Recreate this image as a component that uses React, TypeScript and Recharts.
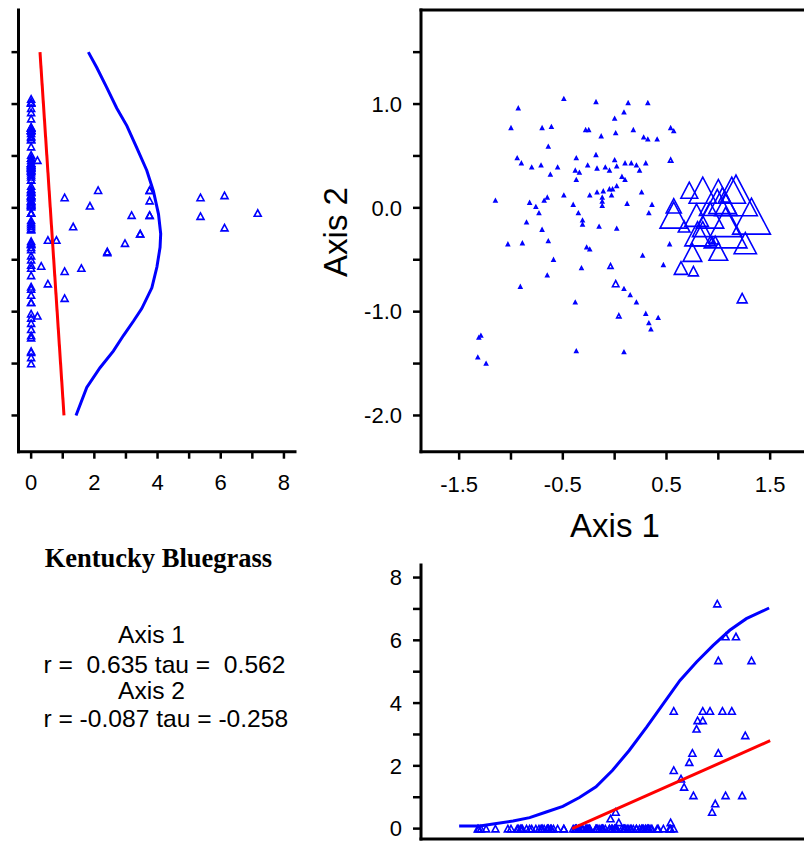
import React from 'react';
import { ScatterChart, Scatter, XAxis, YAxis } from 'recharts';

const BLUE = '#0000ff';
const RED = '#ff0000';
const SANS = '"Liberation Sans", Arial, sans-serif';
const SERIF = '"Liberation Serif", "Times New Roman", serif';

// ---- sample scores (ordination) and species abundance ----
const axis1Scores = [
  -0.49, -0.18, 0.13, 0.32, -0.93, 0.09, 0.0, -1.0, -0.7, -0.61,
  -0.28, -0.25, -0.13, 0.01, 0.18, 0.28, 0.32, 0.41, 0.54, 0.57,
  -0.64, -0.94, -0.37, -0.18, 0.0, 0.1, 0.16, 0.3, 0.54,
  -0.9, -0.8, -0.71, -0.55, -0.62, -0.38, -0.34, -0.37, -0.26, -0.17,
  -0.09, -0.05, 0.02, 0.07, 0.1, 0.21, 0.24, -1.15, -0.82, -0.76,
  -0.73, -0.68, -0.65, -0.49, -0.4, -0.35, -0.24, -0.17, -0.11, -0.12,
  -0.12, -0.12, -0.05, -0.02, 0.02, -0.03, 0.12, 0.26, 0.36, 0.33,
  -0.85, -0.31, -0.31, -0.7, -0.15, 0.02, -1.03, -0.89, -0.64, -0.27,
  -0.24, -0.59, -0.32, -0.65, -0.91, -0.38, 0.27, 0.53, 0.47, 0.09,
  0.15, 0.21, 0.3, 0.33, 0.42, 0.35, -1.31, -1.29, -1.32, -1.24,
  -0.37, 0.09,
  -0.04, 0.01, 0.04,
  0.99, 1.17, 1.07, 1.32, 1.0, 0.57, 0.85, 0.92, 1.04, 1.13,
  0.8, 0.85, 0.79, 1.26, 0.75, 1.0, 0.72, 0.57, 0.64, 0.67,
  0.76, 1.23, 1.07, 0.97, 0.94,
];
const axis2Scores = [
  1.05, 1.02, 1.01, 1.01, 0.96, 0.92, 0.86, 0.77, 0.77, 0.78,
  0.75, 0.75, 0.69, 0.72, 0.75, 0.68, 0.66, 0.66, 0.77, 0.74,
  0.59, 0.48, 0.48, 0.51, 0.46, 0.43, 0.43, 0.43, 0.46,
  0.43, 0.39, 0.41, 0.39, 0.32, 0.36, 0.34, 0.27, 0.41, 0.38,
  0.39, 0.36, 0.4, 0.3, 0.27, 0.41, 0.36, 0.07, 0.05, 0.01,
  -0.05, 0.07, 0.1, 0.12, 0.03, -0.05, 0.12, 0.15, 0.16, 0.1,
  0.06, 0.02, 0.18, 0.18, 0.21, 0.12, 0.04, 0.15, 0.03, -0.05,
  -0.14, -0.12, -0.16, -0.21, -0.18, -0.2, -0.35, -0.34, -0.32, -0.38,
  -0.4, -0.5, -0.58, -0.65, -0.76, -0.91, -0.46, -0.35, -0.55, -0.78,
  -0.84, -0.91, -1.02, -1.11, -1.06, -1.17, -1.25, -1.23, -1.44, -1.5,
  -1.38, -1.39,
  -0.56, -0.73, -1.04,
  -0.05, 0.12, -0.19, -0.08, 0.1, -0.07, 0.17, -0.07, 0.07, 0.17,
  -0.25, -0.25, -0.07, -0.34, -0.43, -0.42, 0.17, 0.02, -0.58, -0.18,
  -0.61, -0.87, 0.1, -0.31, -0.31,
];
const abundance = [
  0, 0, 0, 0, 0, 0, 0, 0, 0, 0,
  0, 0, 0, 0, 0, 0, 0, 0, 0, 0,
  0, 0, 0, 0, 0, 0, 0, 0, 0.2,
  0, 0, 0, 0, 0, 0, 0, 0, 0, 0,
  0, 0, 0, 0, 0, 0, 0, 0, 0, 0,
  0, 0, 0, 0, 0, 0, 0, 0, 0, 0,
  0, 0, 0, 0, 0, 0, 0, 0, 0, 0,
  0, 0, 0, 0, 0, 0, 0, 0, 0, 0,
  0, 0, 0, 0, 0, 0, 0, 0, 0, 0,
  0, 0, 0, 0, 0, 0, 0, 0, 0, 0,
  0, 0,
  0.32, 0.53, 0.2,
  7.17, 6.12, 6.12, 5.36, 5.36, 3.75, 3.75, 3.75, 3.75, 3.75,
  3.45, 3.45, 3.18, 2.97, 2.41, 2.41, 2.12, 1.86, 1.59, 1.33,
  1.06, 1.06, 1.06, 0.8, 0.53,
];

// ---- fitted curves ----
const leftCurveAxis2 = [1.5, 1.35, 1.16, 0.96, 0.79, 0.58, 0.36, 0.16, -0.06, -0.25, -0.38, -0.57, -0.77, -0.97, -1.09, -1.23, -1.38, -1.54, -1.73, -2.0];
const leftCurveAbund = [1.81, 2.08, 2.39, 2.71, 3.03, 3.34, 3.66, 3.87, 4.03, 4.1, 4.08, 3.98, 3.82, 3.5, 3.24, 2.92, 2.6, 2.18, 1.76, 1.42];
const leftTrendAxis2 = [1.5, -2.0];
const leftTrendAbund = [0.28, 1.04];

const bottomCurveAxis1 = [-1.5, -1.3, -1.14, -0.98, -0.82, -0.66, -0.5, -0.34, -0.18, -0.02, 0.14, 0.31, 0.47, 0.63, 0.79, 0.95, 1.11, 1.27, 1.49];
const bottomCurveAbund = [0.08, 0.08, 0.16, 0.24, 0.35, 0.53, 0.71, 0.99, 1.33, 1.86, 2.49, 3.24, 3.98, 4.72, 5.31, 5.84, 6.32, 6.69, 7.03];
const bottomTrendAxis1 = [-0.41, 1.5];
const bottomTrendAbund = [0, 2.8];

// ---- axis ticks ----
const axis1Ticks = [-1.5, -1.0, -0.5, 0, 0.5, 1.0, 1.5];
const axis2Ticks = [-2.0, -1.5, -1.0, -0.5, 0, 0.5, 1.0, 1.5];
const abundTicks = [0, 1, 2, 3, 4, 5, 6, 7, 8];

const axis1Domain = [-1.868, 1.92];
const axis2Domain = [-2.349, 1.906];
const abundLeftDomain = [-0.4, 8.35];
const abundBottomDomain = [-0.331, 8.4];

const mainData = axis1Scores.map((a1, i) => ({ x: a1, y: axis2Scores[i], ab: abundance[i] }));
const leftData = axis1Scores.map((_, i) => ({ x: abundance[i], y: axis2Scores[i] }));
const bottomData = axis1Scores.map((a1, i) => ({ x: a1, y: abundance[i] }));
const leftCurve = leftCurveAxis2.map((y, i) => ({ x: leftCurveAbund[i], y }));
const leftTrend = leftTrendAxis2.map((y, i) => ({ x: leftTrendAbund[i], y }));
const bottomCurve = bottomCurveAxis1.map((x, i) => ({ x, y: bottomCurveAbund[i] }));
const bottomTrend = bottomTrendAxis1.map((x, i) => ({ x, y: bottomTrendAbund[i] }));

const SizedTriangle = (props: any) => {
  const { cx, cy, payload } = props;
  if (cx == null || cy == null) return <g />;
  const w = 3 + 6.5 * (payload?.ab ?? 0);
  const h = w * 0.95;
  return (
    <polygon
      points={`${cx},${cy - h / 2} ${cx - w / 2},${cy + h / 2} ${cx + w / 2},${cy + h / 2}`}
      fill="none"
      stroke={BLUE}
      strokeWidth={1.6}
    />
  );
};

const SmallTriangle = (props: any) => {
  const { cx, cy } = props;
  if (cx == null || cy == null) return <g />;
  const w = 7;
  const h = 6.5;
  return (
    <polygon
      points={`${cx},${cy - h / 2} ${cx - w / 2},${cy + h / 2} ${cx + w / 2},${cy + h / 2}`}
      fill="none"
      stroke={BLUE}
      strokeWidth={1.6}
    />
  );
};

const NoPoint = () => <g />;
const NoTick = () => <g />;

const axisLine = { stroke: '#000', strokeWidth: 3, strokeLinecap: 'square' as const };
const tickLine = { stroke: '#000', strokeWidth: 2.5 };
const tickFont = { fill: '#000', fontSize: 22, fontFamily: SANS };

const fmtAxis1 = (v: number) => (Math.round(Math.abs(v) * 2) % 2 === 1 ? v.toFixed(1) : '');
const fmtAxis2 = (v: number) => (Number.isInteger(v) ? (v === 0 ? '0.0' : v.toFixed(1)) : '');
const fmtEven = (v: number) => (v % 2 === 0 ? String(v) : '');

export default function App() {
  return (
    <div
      style={{
        position: 'fixed',
        left: 0,
        top: 0,
        width: 804,
        height: 841,
        overflow: 'hidden',
        background: '#fff',
      }}
    >
      {/* Left panel: abundance vs Axis 2 */}
      <div style={{ position: 'absolute', left: 0, top: 0 }}>
        <ScatterChart width={300} height={500} margin={{ top: 10, right: 5, bottom: 0, left: 8.5 }}>
          <XAxis
            type="number"
            dataKey="x"
            domain={abundLeftDomain}
            allowDataOverflow
            ticks={abundTicks}
            interval={0}
            tickFormatter={fmtEven}
            height={48.3}
            axisLine={axisLine}
            tickLine={tickLine}
            tickSize={7}
            tickMargin={16}
            tick={tickFont}
          />
          <YAxis
            type="number"
            dataKey="y"
            domain={axis2Domain}
            allowDataOverflow
            ticks={axis2Ticks}
            interval={0}
            width={10}
            axisLine={axisLine}
            tickLine={tickLine}
            tickSize={7}
            tick={NoTick}
          />
          <Scatter data={leftData} shape={SmallTriangle} isAnimationActive={false} />
          <Scatter
            data={leftTrend}
            shape={NoPoint}
            fill={RED}
            line={{ stroke: RED, strokeWidth: 3 }}
            lineType="joint"
            isAnimationActive={false}
          />
          <Scatter
            data={leftCurve}
            shape={NoPoint}
            fill={BLUE}
            line={{ stroke: BLUE, strokeWidth: 3 }}
            lineType="joint"
            isAnimationActive={false}
          />
        </ScatterChart>
      </div>

      {/* Main ordination panel */}
      <div style={{ position: 'absolute', left: 300, top: 0 }}>
        <ScatterChart width={530} height={560} margin={{ top: 9, right: 16.3, bottom: 0, left: 61 }}>
          <XAxis
            type="number"
            dataKey="x"
            domain={axis1Domain}
            allowDataOverflow
            ticks={axis1Ticks}
            interval={0}
            tickFormatter={fmtAxis1}
            height={108.3}
            axisLine={axisLine}
            tickLine={tickLine}
            tickSize={8}
            tickMargin={17}
            tick={tickFont}
          />
          <XAxis
            xAxisId="top"
            orientation="top"
            type="number"
            domain={axis1Domain}
            allowDataOverflow
            height={1}
            axisLine={axisLine}
            tickLine={false}
            tick={false}
          />
          <YAxis
            type="number"
            dataKey="y"
            domain={axis2Domain}
            allowDataOverflow
            ticks={axis2Ticks}
            interval={0}
            tickFormatter={fmtAxis2}
            width={60}
            axisLine={axisLine}
            tickLine={tickLine}
            tickSize={8}
            tickMargin={11}
            tick={tickFont}
          />
          <Scatter data={mainData} shape={SizedTriangle} isAnimationActive={false} />
        </ScatterChart>
      </div>

      {/* Bottom panel: Axis 1 vs abundance */}
      <div style={{ position: 'absolute', left: 300, top: 500 }}>
        <ScatterChart width={530} height={400} margin={{ top: 65, right: 16.3, bottom: 0, left: 61 }}>
          <XAxis
            type="number"
            dataKey="x"
            domain={axis1Domain}
            allowDataOverflow
            height={61}
            axisLine={axisLine}
            tickLine={false}
            tick={false}
          />
          <YAxis
            type="number"
            dataKey="y"
            domain={abundBottomDomain}
            allowDataOverflow
            ticks={abundTicks}
            interval={0}
            tickFormatter={fmtEven}
            width={60}
            axisLine={axisLine}
            tickLine={tickLine}
            tickSize={8}
            tickMargin={11}
            tick={tickFont}
          />
          <Scatter data={bottomData} shape={SmallTriangle} isAnimationActive={false} />
          <Scatter
            data={bottomCurve}
            shape={NoPoint}
            fill={BLUE}
            line={{ stroke: BLUE, strokeWidth: 3 }}
            lineType="joint"
            isAnimationActive={false}
          />
          <Scatter
            data={bottomTrend}
            shape={NoPoint}
            fill={RED}
            line={{ stroke: RED, strokeWidth: 3 }}
            lineType="joint"
            isAnimationActive={false}
          />
        </ScatterChart>
      </div>

      {/* Titles and statistics */}
      <svg
        width={804}
        height={841}
        style={{ position: 'absolute', left: 0, top: 0, pointerEvents: 'none' }}
      >
        <text x={615} y={536.5} textAnchor="middle" fontFamily={SANS} fontSize={33} fill="#000">
          Axis 1
        </text>
        <text
          transform="translate(346.5,232) rotate(-90)"
          textAnchor="middle"
          fontFamily={SANS}
          fontSize={33}
          fill="#000"
        >
          Axis 2
        </text>
        <text x={44.7} y={566.5} fontFamily={SERIF} fontWeight="bold" fontSize={26.5} fill="#000">
          Kentucky Bluegrass
        </text>
        <g fontFamily={SANS} fontSize={24.6} fill="#000" style={{ whiteSpace: 'pre' }}>
          <text x={118} y={643}>Axis 1</text>
          <text x={43.4} y={672.5} style={{ whiteSpace: 'pre' }}>{'r =  0.635 tau =  0.562'}</text>
          <text x={118} y={698.5}>Axis 2</text>
          <text x={43.4} y={726.5} style={{ whiteSpace: 'pre' }}>{'r = -0.087 tau = -0.258'}</text>
        </g>
      </svg>
    </div>
  );
}
